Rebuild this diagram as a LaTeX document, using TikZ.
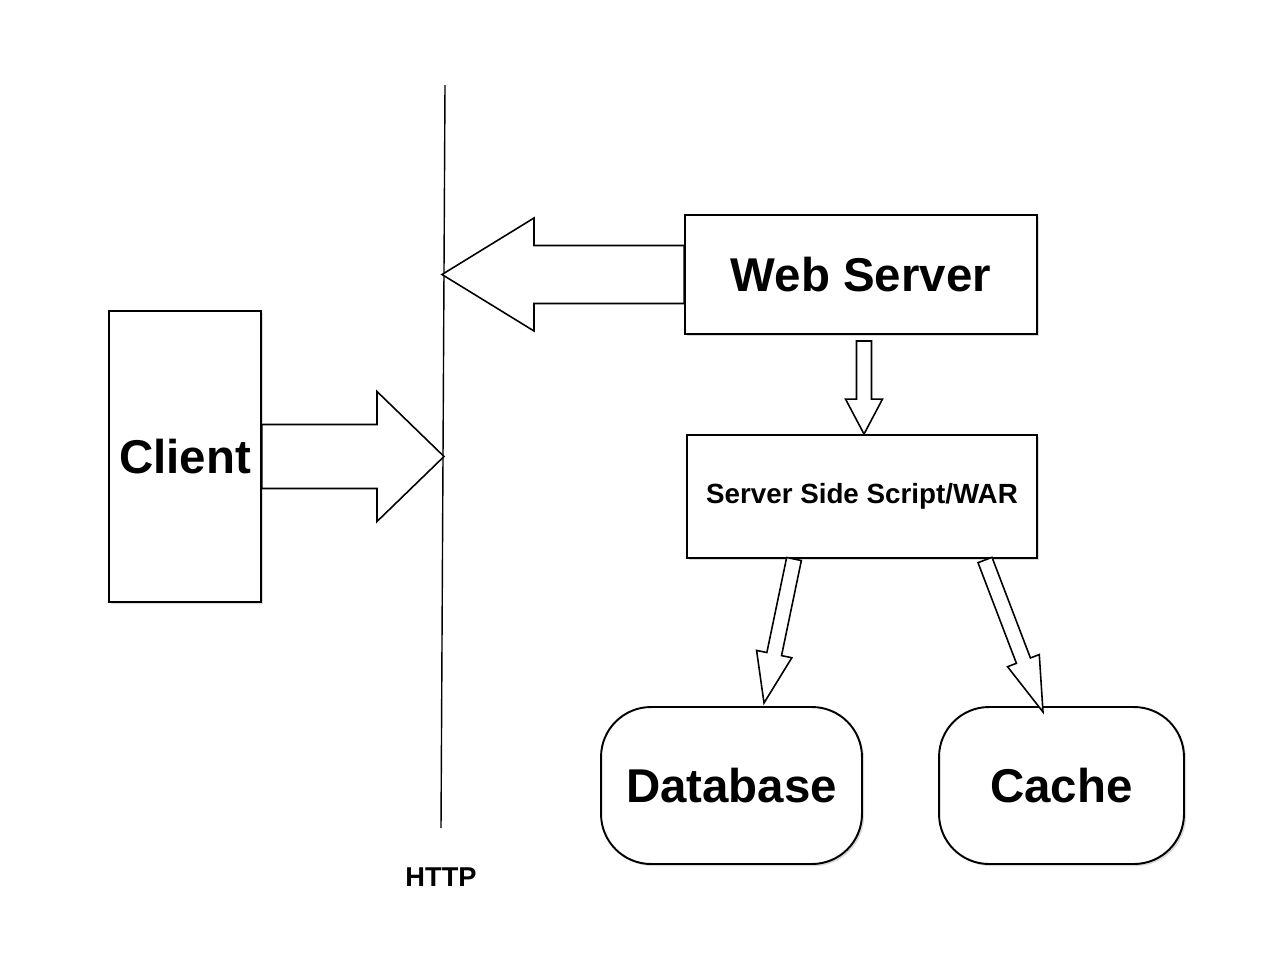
\documentclass[tikz,border=0pt]{standalone}
\usepackage{fontspec}
\setmainfont{Liberation Sans}
\usetikzlibrary{calc,shadows}

\tikzset{
  box/.style={draw, line width=1.1pt, fill=white, inner sep=0pt,
    drop shadow={shadow xshift=1.2pt, shadow yshift=-1.2pt, opacity=0.3},
    font=\bfseries\fontsize{27}{32}\selectfont},
  roundbox/.style={box, rounded corners=1cm},
  fatarrow/.style={draw, line width=0.9pt, fill=white, line join=miter},
}

% 太い矢印 (始点, 終点, 軸の半幅, 頭の半幅, 頭の長さ)
\newcommand{\blockarrow}[5]{%
  \coordinate (ba-s) at (#1);
  \coordinate (ba-t) at (#2);
  \coordinate (ba-h) at ($(ba-t)!#5!(ba-s)$);
  \draw[fatarrow] ($(ba-s)!#3!90:(ba-t)$) -- ($(ba-h)!#3!90:(ba-t)$)
    -- ($(ba-h)!#4!90:(ba-t)$) -- (ba-t) -- ($(ba-h)!#4!-90:(ba-t)$)
    -- ($(ba-h)!#3!-90:(ba-t)$) -- ($(ba-s)!#3!-90:(ba-t)$) -- cycle;
}

\begin{document}
\begin{tikzpicture}[x=0.02cm, y=-0.02cm]
  \useasboundingbox (0,0) rectangle (1280,960);

  % HTTPの境界線
  \coordinate (httptop) at (445,85);
  \coordinate (httpbot) at (441,828);
  \draw[line width=0.8pt] (httptop) -- (httpbot);
  \node[font=\bfseries\fontsize{15.5}{18}\selectfont] (http) at (441,877) {HTTP};

  % ボックス
  \node[box, minimum width=3.04cm, minimum height=5.82cm] (client) at (185,456.5) {Client};
  \node[box, minimum width=7.04cm, minimum height=2.38cm] (webserver) at (861,274.5) {Web Server};
  \node[box, minimum width=7.0cm, minimum height=2.46cm,
    font=\bfseries\fontsize{15.8}{19}\selectfont] (script) at (862,496.5) {Server Side Script/WAR};
  \node[roundbox, minimum width=5.22cm, minimum height=3.14cm] (database) at (731.5,785.5) {Database};
  \node[roundbox, minimum width=4.9cm, minimum height=3.14cm] (cache) at (1061.5,785.5) {Cache};

  % 矢印の端点
  \coordinate (lefttip) at (442,274.5);
  \coordinate (righttip) at (444,456.5);
  \coordinate (downstart) at ($(webserver.south)+(3,6)$);
  \coordinate (downtip) at ($(script.north)+(2,0)$);
  \coordinate (dbstart) at (794,559);
  \coordinate (dbtip) at (764,703);
  \coordinate (cachestart) at (985,560);
  \coordinate (cachetip) at (1043,712);

  % 矢印
  \blockarrow{webserver.west}{lefttip}{0.58cm}{1.13cm}{1.84cm}
  \blockarrow{client.east}{righttip}{0.64cm}{1.3cm}{1.34cm}
  \blockarrow{downstart}{downtip}{0.15cm}{0.37cm}{0.7cm}
  \blockarrow{dbstart}{dbtip}{0.15cm}{0.36cm}{1.0cm}
  \blockarrow{cachestart}{cachetip}{0.15cm}{0.34cm}{1.1cm}
\end{tikzpicture}
\end{document}
